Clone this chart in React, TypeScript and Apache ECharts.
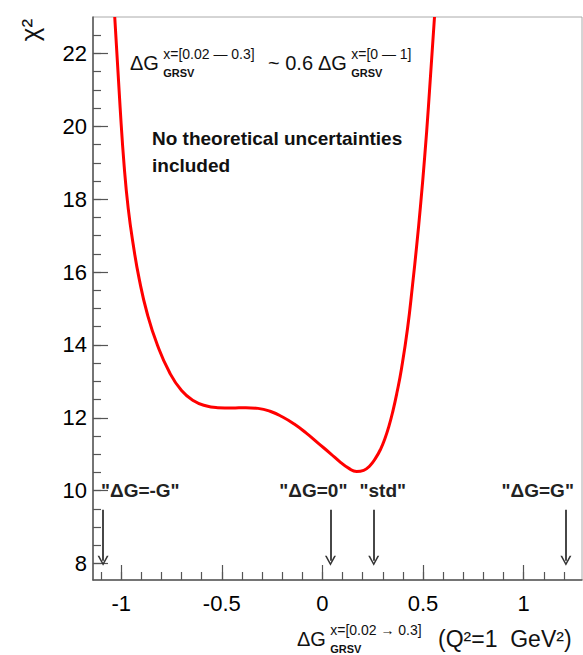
import React, { useEffect, useRef } from "react";
import * as echarts from "echarts";

// ---- data ----
const curveX = [-1.032, -1.005, -0.985, -0.965, -0.94, -0.91, -0.87, -0.82, -0.76, -0.7, -0.64, -0.58, -0.52, -0.45, -0.38, -0.32, -0.26, -0.2, -0.14, -0.08, -0.02, 0.04, 0.09, 0.13, 0.17, 0.205, 0.235, 0.265, 0.29, 0.31, 0.33, 0.35, 0.37, 0.393, 0.423, 0.448, 0.468, 0.488, 0.508, 0.527, 0.557];
const curveY = [23.0, 20.5, 18.9, 17.75, 16.75, 15.8, 14.85, 14.0, 13.25, 12.75, 12.47, 12.33, 12.28, 12.27, 12.28, 12.26, 12.18, 12.03, 11.83, 11.58, 11.3, 11.02, 10.78, 10.62, 10.53, 10.56, 10.68, 10.9, 11.15, 11.42, 11.76, 12.18, 12.68, 13.35, 14.45, 15.65, 16.7, 17.85, 19.15, 20.55, 23.0];

const arrowX = [-1.09, 0.04, 0.255, 1.21];
const arrowTopY = 9.48;
const arrowTipY = 8.08;
const arrowLabels = ['"ΔG=-G"', '"ΔG=0"', '"std"', '"ΔG=G"'];
const arrowLabelX = [-0.905, -0.045, 0.3, 1.07];
const arrowLabelY = 10.0;

const xMin = -1.14;
const xMax = 1.29;
const yMin = 7.55;
const yMax = 23.0;
const xMajorTicks = [-1, -0.5, 0, 0.5, 1];
const xMinorTicks = [-1.1, -1.0, -0.9, -0.8, -0.7, -0.6, -0.5, -0.4, -0.3, -0.2, -0.1, 0, 0.1, 0.2, 0.3, 0.4, 0.5, 0.6, 0.7, 0.8, 0.9, 1.0, 1.1, 1.2];
const yMajorTicks = [8, 10, 12, 14, 16, 18, 20, 22];
const yMinorTicks = [8, 8.5, 9, 9.5, 10, 10.5, 11, 11.5, 12, 12.5, 13, 13.5, 14, 14.5, 15, 15.5, 16, 16.5, 17, 17.5, 18, 18.5, 19, 19.5, 20, 20.5, 21, 21.5, 22, 22.5];

const FONT = "Liberation Sans, Arial, Helvetica, sans-serif";
const AXIS_COLOR = "#555";

function dg(left: number, midY: number, sup: string, sub: string, size: number, supSize: number) {
  const sx = left + size * 1.66;
  return [
    { type: "text", x: left, y: midY, style: { text: "ΔG", font: `${size}px ${FONT}`, fill: "#111", textVerticalAlign: "middle" } },
    { type: "text", x: sx, y: midY - size * 0.45, style: { text: sup, font: `${supSize}px ${FONT}`, fill: "#111", textVerticalAlign: "middle" } },
    { type: "text", x: sx, y: midY + size * 0.5, style: { text: sub, font: `bold ${supSize - 3}px ${FONT}`, fill: "#111", textVerticalAlign: "middle" } },
  ];
}

export default function App() {
  const ref = useRef<HTMLDivElement>(null);
  useEffect(() => {
    if (!ref.current) return;
    const chart = echarts.init(ref.current, null, { renderer: "svg" });
    const vPath = "path://M5,0 L10,10 L8.4,10 L5,3 L1.6,10 L0,10 Z";
    const option: any = {
      animation: false,
      backgroundColor: "#fff",
      grid: { left: 93, right: 1, top: 17, bottom: 75, show: true, borderColor: "#aaa", borderWidth: 1, backgroundColor: "transparent" },
      xAxis: [
        {
          type: "value", min: xMin, max: xMax, position: "bottom",
          axisLine: { show: true, onZero: false, lineStyle: { color: AXIS_COLOR, width: 1.5 } },
          axisTick: { show: true, inside: true, length: 15, customValues: xMajorTicks, lineStyle: { color: AXIS_COLOR, width: 1.2 } },
          axisLabel: { show: true, customValues: xMajorTicks, margin: 12, fontSize: 22, color: "#000", fontFamily: FONT, formatter: (v: number) => String(v) },
          splitLine: { show: false },
        },
        {
          type: "value", min: xMin, max: xMax, position: "bottom",
          axisLine: { show: false, onZero: false },
          axisTick: { show: true, inside: true, length: 8, customValues: xMinorTicks, lineStyle: { color: AXIS_COLOR, width: 1.2 } },
          axisLabel: { show: false },
          splitLine: { show: false },
        },
      ],
      yAxis: [
        {
          type: "value", min: yMin, max: yMax, position: "left",
          axisLine: { show: true, onZero: false, lineStyle: { color: AXIS_COLOR, width: 1.5 } },
          axisTick: { show: true, inside: true, length: 15, customValues: yMajorTicks, lineStyle: { color: AXIS_COLOR, width: 1.2 } },
          axisLabel: { show: true, customValues: yMajorTicks, margin: 6, fontSize: 22, color: "#000", fontFamily: FONT },
          splitLine: { show: false },
        },
        {
          type: "value", min: yMin, max: yMax, position: "left",
          axisLine: { show: false, onZero: false },
          axisTick: { show: true, inside: true, length: 8, customValues: yMinorTicks, lineStyle: { color: AXIS_COLOR, width: 1.2 } },
          axisLabel: { show: false },
          splitLine: { show: false },
        },
      ],
      series: [
        {
          type: "line",
          xAxisIndex: 0, yAxisIndex: 0,
          data: curveX.map((x, i) => [x, curveY[i]]),
          showSymbol: false,
          smooth: 0.5,
          clip: true,
          lineStyle: { color: "#ff0000", width: 3 },
          markLine: {
            silent: true,
            symbol: ["none", vPath],
            symbolSize: [11, 10],
            label: { show: false },
            lineStyle: { color: "#333", width: 1.8, type: "solid" },
            data: arrowX.map((x) => [
              { coord: [x, arrowTopY] },
              { coord: [x, arrowTipY] },
            ]),
          },
        },
        {
          type: "scatter",
          xAxisIndex: 0, yAxisIndex: 0,
          symbolSize: 0,
          itemStyle: { opacity: 1 },
          data: arrowLabelX.map((x, i) => ({ value: [x, arrowLabelY], name: arrowLabels[i] })),
          label: { show: true, position: "inside", formatter: (p: any) => p.name, fontSize: 19, fontWeight: "bold", color: "#222", opacity: 1, fontFamily: FONT },
        },
      ],
      graphic: [
        // y-axis title
        { type: "text", x: 30, y: 30, rotation: Math.PI / 2, style: { text: "χ²", font: `26px ${FONT}`, fill: "#111", textAlign: "center", textVerticalAlign: "middle" } },
        // top formula
        ...dg(130, 63, "x=[0.02 — 0.3]", "GRSV", 20, 14),
        { type: "text", x: 268, y: 63, style: { text: "~ 0.6", font: `20px ${FONT}`, fill: "#111", textVerticalAlign: "middle" } },
        ...dg(318, 63, "x=[0 — 1]", "GRSV", 20, 14),
        // note
        { type: "text", x: 152, y: 138, style: { text: "No theoretical uncertainties", font: `bold 19px ${FONT}`, fill: "#111", textVerticalAlign: "middle" } },
        { type: "text", x: 152, y: 165, style: { text: "included", font: `bold 19px ${FONT}`, fill: "#111", textVerticalAlign: "middle" } },
        // x-axis title
        ...dg(297, 639, "x=[0.02 → 0.3]", "GRSV", 20, 14),
        { type: "text", x: 438, y: 639, style: { text: "(Q²=1  GeV²)", font: `23px ${FONT}`, fill: "#111", textVerticalAlign: "middle" } },
      ],
    };
    chart.setOption(option);
    return () => chart.dispose();
  }, []);
  return <div ref={ref} style={{ position: "fixed", left: 0, top: 0, width: 583, height: 655 }} />;
}
